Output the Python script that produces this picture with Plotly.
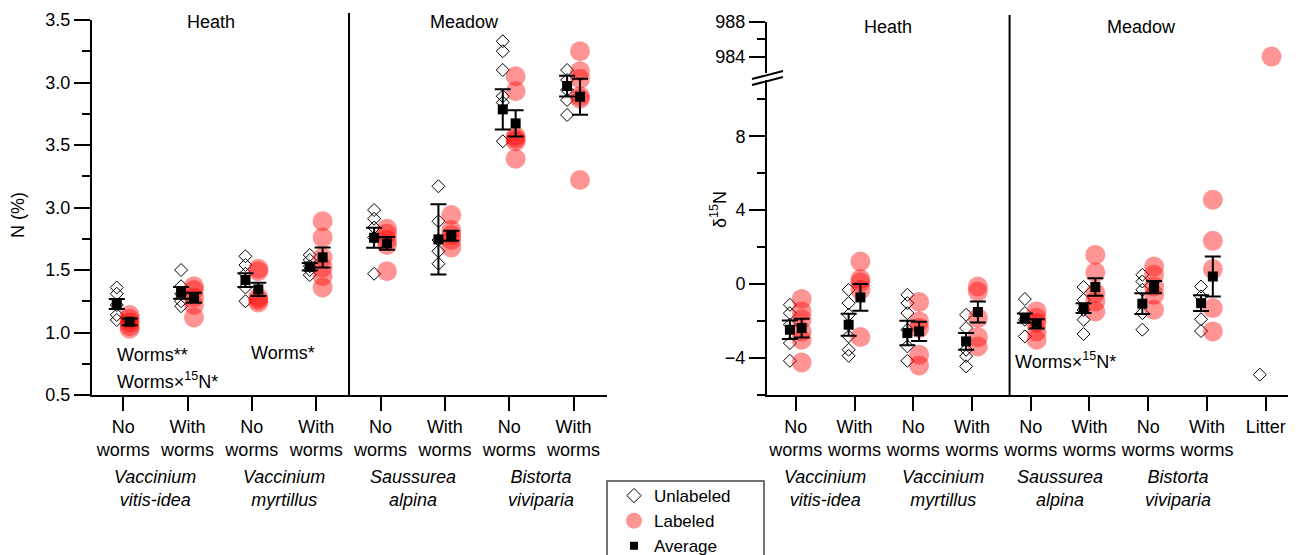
import plotly.graph_objects as go

W, H = 1298, 555
FONT = "Liberation Sans, Arial, Helvetica, sans-serif"
FS = 18

# ---------------- data ----------------
left_ticks = ["No<br>worms", "With<br>worms"] * 4
right_ticks = ["No<br>worms", "With<br>worms"] * 4 + ["Litter"]
species = ["Vaccinium<br>vitis-idea", "Vaccinium<br>myrtillus",
           "Saussurea<br>alpina", "Bistorta<br>viviparia"]
left_ytickvals = [0.5, 1.0, 1.5, 2.0, 2.5, 3.0, 3.5]
left_yticktext = ["0.5", "1.0", "1.5", "3.0", "3.5", "3.0", "3.5"]

# N (%) – individual samples
n_unlabeled = [
    [1.36, 1.31, 1.22, 1.14, 1.10],
    [1.50, 1.37, 1.31, 1.25, 1.21],
    [1.61, 1.54, 1.47, 1.36, 1.25],
    [1.62, 1.58, 1.53, 1.50, 1.46],
    [1.98, 1.91, 1.84, 1.76, 1.47],
    [2.17, 1.89, 1.74, 1.65, 1.55],
    [3.33, 3.25, 3.10, 2.89, 2.84, 2.53],
    [3.10, 3.02, 2.94, 2.86, 2.74],
]
n_labeled = [
    [1.14, 1.11, 1.08, 1.05, 1.03],
    [1.37, 1.34, 1.28, 1.22, 1.12],
    [1.51, 1.49, 1.28, 1.26, 1.24],
    [1.89, 1.76, 1.60, 1.52, 1.45, 1.36],
    [1.83, 1.79, 1.74, 1.70, 1.49],
    [1.94, 1.82, 1.78, 1.74, 1.68],
    [3.05, 2.93, 2.57, 2.55, 2.53, 2.39],
    [3.25, 3.09, 3.03, 2.89, 2.87, 2.22],
]
n_avg_unlabeled = [1.228, 1.318, 1.420, 1.527, 1.758, 1.745, 2.785, 2.972]
n_se_unlabeled = [0.040, 0.047, 0.055, 0.030, 0.080, 0.280, 0.160, 0.083]
n_avg_labeled = [1.086, 1.278, 1.345, 1.601, 1.713, 1.775, 2.673, 2.886]
n_se_labeled = [0.027, 0.040, 0.053, 0.080, 0.050, 0.040, 0.105, 0.144]

# delta 15N – individual samples (last group = Litter)
d_unlabeled = [
    [-1.12, -1.57, -2.20, -3.19, -4.15],
    [-0.31, -1.03, -1.66, -2.83, -3.55, -3.88],
    [-0.58, -1.03, -1.57, -2.47, -3.37, -4.15],
    [-1.66, -2.38, -3.55, -3.90, -4.45],
    [-0.81, -1.57, -1.93, -2.83],
    [-0.16, -0.85, -1.40, -1.93, -2.70],
    [0.50, 0.14, -0.31, -1.57, -2.47],
    [-0.13, -0.67, -1.90, -2.54],
    [-4.90],
]
d_labeled = [
    [-0.81, -1.48, -1.90, -2.56, -3.01, -4.24],
    [1.22, 0.27, 0.10, -0.31, -2.86],
    [-0.97, -2.02, -2.38, -3.82, -4.40],
    [-0.13, -0.40, -1.84, -2.87, -3.37],
    [-1.48, -1.84, -2.10, -2.56, -3.01],
    [1.58, 0.63, -0.49, -0.94, -1.48],
    [0.95, 0.50, -0.13, -0.58, -1.39],
    [4.56, 2.34, 0.81, -1.30, -2.56],
    [984.0],
]
d_avg_unlabeled = [-2.47, -2.20, -2.65, -3.10, -1.84, -1.30, -1.06, -1.03]
d_se_unlabeled = [0.50, 0.60, 0.66, 0.45, 0.25, 0.27, 0.56, 0.43]
d_avg_labeled = [-2.38, -0.72, -2.56, -1.51, -2.15, -0.16, -0.16, 0.41]
d_se_labeled = [0.51, 0.72, 0.52, 0.57, 0.25, 0.47, 0.33, 1.08]

BREAK = 100  # values above this are drawn on the upper (broken) axis

# ---------------- helpers ----------------
def fx(p):
    return p / W


def fy(p):
    return 1 - p / H


OFF = 0.1
DIAM = dict(symbol="diamond-open", size=10, color="black", line=dict(width=1, color="black"))
CIRC = dict(symbol="circle", size=20, color="rgba(255,0,0,0.42)", line=dict(width=0))
SQR = dict(symbol="square", size=10, color="black")
ERR = dict(type="data", color="black", thickness=2, width=8, visible=True)


def flat(groups, off):
    xs, ys = [], []
    for i, g in enumerate(groups):
        for v in g:
            xs.append(i + 1 + off)
            ys.append(v)
    return xs, ys


fig = go.Figure()

# ---- left panel ----
xs, ys = flat(n_unlabeled, -OFF)
fig.add_trace(go.Scatter(x=xs, y=ys, mode="markers", marker=DIAM, showlegend=False,
                         xaxis="x", yaxis="y"))
xs, ys = flat(n_labeled, OFF)
fig.add_trace(go.Scatter(x=xs, y=ys, mode="markers", marker=CIRC, showlegend=False,
                         xaxis="x", yaxis="y"))
fig.add_trace(go.Scatter(x=[i + 1 - OFF for i in range(len(n_avg_unlabeled))], y=n_avg_unlabeled,
                         mode="markers", marker=SQR, error_y=dict(array=n_se_unlabeled, **ERR),
                         showlegend=False, xaxis="x", yaxis="y"))
fig.add_trace(go.Scatter(x=[i + 1 + OFF for i in range(len(n_avg_labeled))], y=n_avg_labeled,
                         mode="markers", marker=SQR, error_y=dict(array=n_se_labeled, **ERR),
                         showlegend=False, xaxis="x", yaxis="y"))

# ---- right panel ----
for groups, off, mk in [(d_unlabeled, -OFF, DIAM), (d_labeled, OFF, CIRC)]:
    xs, ys = flat(groups, off)
    lo = [(x, y) for x, y in zip(xs, ys) if y < BREAK]
    hi = [(x, y) for x, y in zip(xs, ys) if y >= BREAK]
    if lo:
        fig.add_trace(go.Scatter(x=[p[0] for p in lo], y=[p[1] for p in lo], mode="markers",
                                 marker=mk, showlegend=False, xaxis="x2", yaxis="y2"))
    if hi:
        fig.add_trace(go.Scatter(x=[p[0] for p in hi], y=[p[1] for p in hi], mode="markers",
                                 marker=mk, showlegend=False, xaxis="x2", yaxis="y3",
                                 cliponaxis=False))
fig.add_trace(go.Scatter(x=[i + 1 - OFF for i in range(len(d_avg_unlabeled))], y=d_avg_unlabeled,
                         mode="markers", marker=SQR, error_y=dict(array=d_se_unlabeled, **ERR),
                         showlegend=False, xaxis="x2", yaxis="y2"))
fig.add_trace(go.Scatter(x=[i + 1 + OFF for i in range(len(d_avg_labeled))], y=d_avg_labeled,
                         mode="markers", marker=SQR, error_y=dict(array=d_se_labeled, **ERR),
                         showlegend=False, xaxis="x2", yaxis="y2"))

# ---- legend entries ----
fig.add_trace(go.Scatter(x=[None], y=[None], mode="markers", name="Unlabeled",
                         marker=dict(symbol="diamond-open", size=11, color="black", line=dict(width=1))))
fig.add_trace(go.Scatter(x=[None], y=[None], mode="markers", name="Labeled",
                         marker=dict(symbol="circle", size=16, color="rgba(255,0,0,0.42)")))
fig.add_trace(go.Scatter(x=[None], y=[None], mode="markers", name="Average",
                         marker=dict(symbol="square", size=8, color="black")))

axis_common = dict(showline=True, linewidth=2, linecolor="black", ticks="outside",
                   tickwidth=2, tickcolor="black", showgrid=False, zeroline=False,
                   tickfont=dict(family=FONT, size=FS, color="black"), fixedrange=True)

fig.update_layout(
    width=W, height=H,
    margin=dict(l=0, r=0, t=0, b=0, autoexpand=False),
    plot_bgcolor="white", paper_bgcolor="white",
    font=dict(family=FONT, size=FS, color="black"),
    xaxis=dict(domain=[fx(92), fx(607)], range=[0.515, 8.52], anchor="y",
               tickmode="array", tickvals=list(range(1, 9)), ticktext=left_ticks,
               ticklen=14, **axis_common),
    yaxis=dict(domain=[fy(395), fy(20)], range=[0.5, 3.5], anchor="x",
               tickmode="array", tickvals=left_ytickvals, ticktext=left_yticktext,
               ticklen=16,
               minor=dict(tickmode="array", tickvals=[0.75, 1.25, 1.75, 2.25, 2.75, 3.25],
                          ticks="outside", ticklen=8, tickwidth=2, tickcolor="black"),
               **axis_common),
    xaxis2=dict(domain=[fx(767), fx(1288)], range=[0.51, 9.38], anchor="y2",
                tickmode="array", tickvals=list(range(1, 10)), ticktext=right_ticks,
                ticklen=14, **axis_common),
    yaxis2=dict(domain=[fy(395), fy(80)], range=[-6, 11.04], anchor="x2",
                tickmode="array", tickvals=[-4, 0, 4, 8], ticktext=["\u22124", "0", "4", "8"],
                ticklen=16,
                minor=dict(tickmode="array", tickvals=[-6, -2, 2, 6, 10],
                           ticks="outside", ticklen=8, tickwidth=2, tickcolor="black"),
                **axis_common),
    yaxis3=dict(domain=[fy(73), fy(22)], range=[982.1, 988.0], anchor="x2",
                tickmode="array", tickvals=[984, 988], ticktext=["984", "988"],
                ticklen=16,
                minor=dict(tickmode="array", tickvals=[986],
                           ticks="outside", ticklen=8, tickwidth=2, tickcolor="black"),
                **axis_common),
    legend=dict(x=fx(614), y=fy(478), xanchor="left", yanchor="top",
                bgcolor="rgba(0,0,0,0)", borderwidth=0,
                font=dict(family=FONT, size=17, color="black"),
                itemwidth=30, tracegroupgap=0),
    showlegend=True,
)

shapes = [
    # panel separators
    dict(type="line", xref="x", yref="paper", x0=4.51, x1=4.51, y0=fy(395), y1=fy(13),
         line=dict(color="black", width=2)),
    dict(type="line", xref="x2", yref="paper", x0=4.64, x1=4.64, y0=fy(395), y1=fy(15),
         line=dict(color="black", width=2)),
    # axis break marks
    dict(type="line", xref="paper", yref="paper", x0=fx(752), x1=fx(783), y0=fy(79), y1=fy(71),
         line=dict(color="black", width=2)),
    dict(type="line", xref="paper", yref="paper", x0=fx(752), x1=fx(783), y0=fy(85), y1=fy(77),
         line=dict(color="black", width=2)),
    # legend box
    dict(type="rect", xref="paper", yref="paper", x0=fx(607), x1=fx(764), y0=fy(560), y1=fy(481),
         line=dict(color="#444", width=1.5), fillcolor="rgba(0,0,0,0)"),
]
fig.update_layout(shapes=shapes)

ann = []
for xref, x, y, t in [("x", 2.37, 22, "Heath"), ("x", 6.3, 22, "Meadow"),
                      ("x2", 2.575, 27, "Heath"), ("x2", 6.89, 27, "Meadow")]:
    ann.append(dict(xref=xref, yref="paper", x=x, y=fy(y), text=t, showarrow=False,
                    xanchor="center", yanchor="middle", font=dict(size=FS)))
for i, s in enumerate(species):
    ann.append(dict(xref="x", yref="paper", x=2 * i + 1.5, y=fy(488), text="<i>" + s + "</i>",
                    showarrow=False, xanchor="center", yanchor="middle", font=dict(size=FS)))
    ann.append(dict(xref="x2", yref="paper", x=2 * i + 1.5, y=fy(488), text="<i>" + s + "</i>",
                    showarrow=False, xanchor="center", yanchor="middle", font=dict(size=FS)))
for xref, x, y, t in [("x", 0.87, 355, "Worms**"),
                      ("x", 0.87, 380, "Worms\u00d7<sup>15</sup>N*"),
                      ("x", 2.96, 353, "Worms*"),
                      ("x2", 4.70, 360, "Worms\u00d7<sup>15</sup>N*")]:
    ann.append(dict(xref=xref, yref="paper", x=x, y=fy(y), text=t, showarrow=False,
                    xanchor="left", yanchor="middle", font=dict(size=FS)))
ann.append(dict(xref="paper", yref="paper", x=fx(18), y=fy(215), text="N (%)", textangle=-90,
                showarrow=False, xanchor="center", yanchor="middle", font=dict(size=FS)))
ann.append(dict(xref="paper", yref="paper", x=fx(718), y=fy(210), text="\u03b4<sup>15</sup>N",
                textangle=-90, showarrow=False, xanchor="center", yanchor="middle",
                font=dict(size=FS)))
fig.update_layout(annotations=ann)

fig.write_html("out.html")
